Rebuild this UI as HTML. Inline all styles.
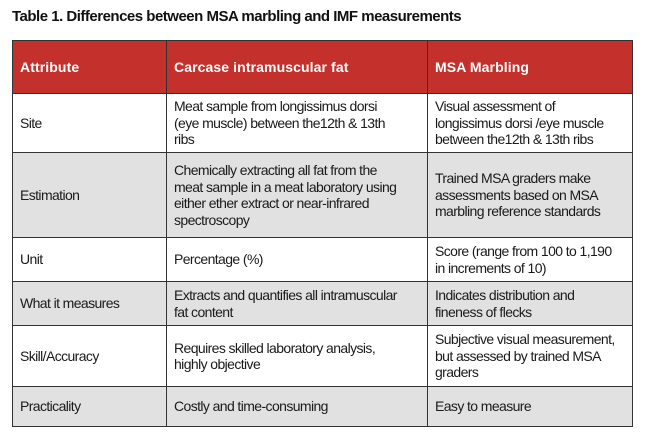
<!DOCTYPE html>
<html><head><style>
body{margin:0;width:652px;height:444px;background:#fff;position:relative;font-family:"Liberation Sans",sans-serif;overflow:hidden}
.t{position:absolute;left:12px;top:8px;font-weight:bold;font-size:15px;letter-spacing:-0.5px;color:#111}
.c{position:absolute;box-sizing:border-box;border:1px solid #333;display:flex;align-items:center;padding:0 7px;font-size:14px;line-height:16.5px;color:#1a1a1a;letter-spacing:-0.6px}
.h{background:#c4312c;color:#fff;font-weight:bold;font-size:14px;letter-spacing:0.1px}
.g{background:#e1e1e1}
</style></head><body>
<div class="t">Table 1. Differences between MSA marbling and IMF measurements</div>
<div class="c h" style="left:12px;top:40px;width:155px;height:54px">Attribute</div>
<div class="c h" style="left:166px;top:40px;width:262px;height:54px">Carcase intramuscular fat</div>
<div class="c h" style="left:427px;top:40px;width:206px;height:54px">MSA Marbling</div>

<div class="c" style="left:12px;top:93px;width:155px;height:60px">Site</div>
<div class="c" style="left:166px;top:93px;width:262px;height:60px">Meat sample from longissimus dorsi<br>(eye muscle) between the12th &amp; 13th<br>ribs</div>
<div class="c" style="left:427px;top:93px;width:206px;height:60px">Visual assessment of<br>longissimus dorsi /eye muscle<br>between the12th &amp; 13th ribs</div>

<div class="c g" style="left:12px;top:152px;width:155px;height:86px">Estimation</div>
<div class="c g" style="left:166px;top:152px;width:262px;height:86px">Chemically extracting all fat from the<br>meat sample in a meat laboratory using<br>either ether extract or near-infrared<br>spectroscopy</div>
<div class="c g" style="left:427px;top:152px;width:206px;height:86px">Trained MSA graders make<br>assessments based on MSA<br>marbling reference standards</div>

<div class="c" style="left:12px;top:237px;width:155px;height:45px">Unit</div>
<div class="c" style="left:166px;top:237px;width:262px;height:45px">Percentage (%)</div>
<div class="c" style="left:427px;top:237px;width:206px;height:45px">Score (range from 100 to 1,190<br>in increments of 10)</div>

<div class="c g" style="left:12px;top:281px;width:155px;height:45px">What it measures</div>
<div class="c g" style="left:166px;top:281px;width:262px;height:45px">Extracts and quantifies all intramuscular<br>fat content</div>
<div class="c g" style="left:427px;top:281px;width:206px;height:45px">Indicates distribution and<br>fineness of flecks</div>

<div class="c" style="left:12px;top:325px;width:155px;height:62px">Skill/Accuracy</div>
<div class="c" style="left:166px;top:325px;width:262px;height:62px">Requires skilled laboratory analysis,<br>highly objective</div>
<div class="c" style="left:427px;top:325px;width:206px;height:62px">Subjective visual measurement,<br>but assessed by trained MSA<br>graders</div>

<div class="c g" style="left:12px;top:386px;width:155px;height:41px">Practicality</div>
<div class="c g" style="left:166px;top:386px;width:262px;height:41px">Costly and time-consuming</div>
<div class="c g" style="left:427px;top:386px;width:206px;height:41px">Easy to measure</div>
</body></html>
